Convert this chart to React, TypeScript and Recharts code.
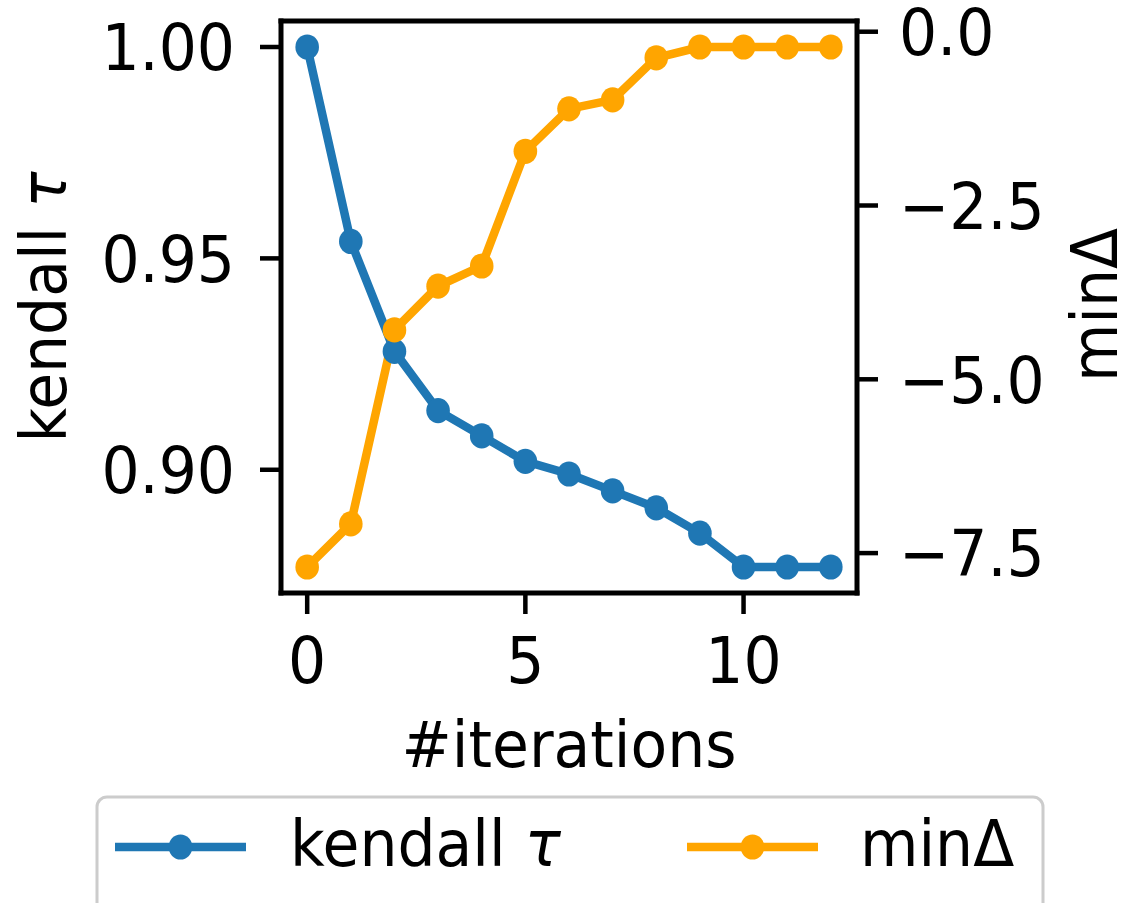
import React from 'react';
import { LineChart, Line, XAxis, YAxis, Legend, ReferenceLine } from 'recharts';

// ---- data ----
const iterations = [0, 1, 2, 3, 4, 5, 6, 7, 8, 9, 10, 11, 12];
const kendallTau = [1.0, 0.954, 0.928, 0.914, 0.908, 0.902, 0.899, 0.895, 0.891, 0.885, 0.877, 0.877, 0.877];
const minDelta = [-7.7, -7.08, -4.29, -3.66, -3.37, -1.72, -1.11, -0.98, -0.375, -0.22, -0.22, -0.22, -0.22];
const xTicks = [0, 5, 10];
const tauTicks = [0.9, 0.95, 1.0];
const deltaTicks = [-7.5, -5.0, -2.5, 0.0];
const seriesNames = { tau: 'kendall τ', delta: 'minΔ' };
const xLabel = '#iterations';

const data = iterations.map((it, i) => ({ iter: it, tau: kendallTau[i], delta: minDelta[i] }));

// matplotlib-like 5% margins
const padDomain = (vals: number[]): [number, number] => {
  const mn = Math.min(...vals);
  const mx = Math.max(...vals);
  const m = (mx - mn) * 0.05;
  return [mn - m, mx + m];
};
const xDomain = padDomain(iterations);
const tauDomain = padDomain(kendallTau);
const deltaDomain = padDomain(minDelta);

// ---- layout / style ----
const W = 1121;
const H = 903;
const PLOT = { left: 281, right: 857, top: 21, bottom: 593 };
const FONT = 'DejaVu Sans';
const FS = 60;
const SY = 1.07; // slight vertical stretch seen in the reference
const BLUE = '#1f77b4';
const ORANGE = '#ffa500';
const LW = 8.5;
const RX = 11.8;
const RY = 12.6;
const FRAME = 5;

const axisLineStyle = { stroke: '#000', strokeWidth: FRAME, strokeLinecap: 'square' as const };
const tickLineStyle = { stroke: '#000', strokeWidth: 4.5 };

const fmtTau = (v: number) => v.toFixed(2);
const fmtDelta = (v: number) => (v < 0 ? '\u2212' : '') + Math.abs(v).toFixed(1);
const fmtX = (v: number) => String(v);

const SText = ({ x, y, anchor, children, rotate }: any) => (
  <text
    transform={`translate(${x},${y})${rotate ? ` rotate(${rotate})` : ''} scale(1,${SY})`}
    textAnchor={anchor}
    fontSize={FS}
    fontFamily={FONT}
    fill="#000"
  >
    {children}
  </text>
);

const makeTick = (fmt: (v: number) => string, kind: 'x' | 'y') => (props: any) => {
  const { x, y, payload, textAnchor } = props;
  const baseline = kind === 'x' ? y + 45 : y + 0.3645 * FS * SY;
  return (
    <SText x={x} y={baseline} anchor={textAnchor}>
      {fmt(payload.value)}
    </SText>
  );
};

const XLabelContent = () => (
  <SText x={(PLOT.left + PLOT.right) / 2} y={767} anchor="middle">
    {xLabel}
  </SText>
);

const LeftLabelContent = () => (
  <SText x={66} y={(PLOT.top + PLOT.bottom) / 2} anchor="middle" rotate={-90}>
    kendall <tspan fontStyle="italic">τ</tspan>
  </SText>
);

const RightLabelContent = () => (
  <SText x={1117} y={305} anchor="middle" rotate={-90}>
    {seriesNames.delta}
  </SText>
);

const makeDot = (color: string) => (props: any) => {
  const { cx, cy, index } = props;
  if (cx == null || cy == null) return <g key={`d-${index}`} />;
  return <ellipse key={`d-${index}`} cx={cx} cy={cy} rx={RX} ry={RY} fill={color} />;
};

const LEG_TOP = 780;
const legendItemX = [
  { lineStart: 115, lineEnd: 246, text: 290 },
  { lineStart: 687, lineEnd: 818, text: 860 },
];

const renderLegend = (props: any) => {
  const payload = (props && props.payload) || [];
  const ly = 847 - LEG_TOP;
  const ty = 866 - LEG_TOP;
  return (
    <svg width={W} height={H - LEG_TOP} style={{ display: 'block' }}>
      <rect x={97} y={797 - LEG_TOP} width={946} height={160} rx={10} ry={10} fill="#fff" stroke="#cccccc" strokeWidth={3} />
      {payload.map((p: any, i: number) => {
        const pos = legendItemX[i] || legendItemX[0];
        const name = String(p.value);
        const isTau = name === seriesNames.tau;
        return (
          <g key={i}>
            <line x1={pos.lineStart} x2={pos.lineEnd} y1={ly} y2={ly} stroke={p.color} strokeWidth={LW} />
            <ellipse cx={(pos.lineStart + pos.lineEnd) / 2} cy={ly} rx={RX} ry={RY} fill={p.color} />
            <SText x={pos.text} y={ty} anchor="start">
              {isTau ? (
                <>
                  kendall <tspan fontStyle="italic">τ</tspan>
                </>
              ) : (
                name
              )}
            </SText>
          </g>
        );
      })}
    </svg>
  );
};

export default function App() {
  return (
    <div style={{ position: 'absolute', left: 0, top: 0, width: W, height: H, overflow: 'hidden', background: '#fff', fontFamily: FONT }}>
      <LineChart width={W} height={H} data={data} margin={{ top: PLOT.top, right: 0, bottom: 0, left: 0 }}>
        <XAxis
          dataKey="iter"
          type="number"
          domain={xDomain}
          ticks={xTicks}
          interval={0}
          height={H - PLOT.bottom}
          tick={makeTick(fmtX, 'x')}
          tickSize={21}
          tickMargin={24}
          axisLine={axisLineStyle}
          tickLine={tickLineStyle}
          label={{ content: XLabelContent }}
        />
        <YAxis
          yAxisId="tau"
          orientation="left"
          type="number"
          domain={tauDomain}
          ticks={tauTicks}
          interval={0}
          width={PLOT.left}
          tick={makeTick(fmtTau, 'y')}
          tickSize={21}
          tickMargin={25}
          axisLine={axisLineStyle}
          tickLine={tickLineStyle}
          label={{ content: LeftLabelContent }}
        />
        <YAxis
          yAxisId="delta"
          orientation="right"
          type="number"
          domain={deltaDomain}
          ticks={deltaTicks}
          interval={0}
          width={W - PLOT.right}
          tick={makeTick(fmtDelta, 'y')}
          tickSize={21}
          tickMargin={21}
          axisLine={axisLineStyle}
          tickLine={tickLineStyle}
          label={{ content: RightLabelContent }}
        />
        <ReferenceLine yAxisId="tau" y={tauDomain[1]} stroke="#000" strokeWidth={FRAME} strokeLinecap="square" />
        <Line
          yAxisId="tau"
          dataKey="tau"
          name={seriesNames.tau}
          stroke={BLUE}
          strokeWidth={LW}
          dot={makeDot(BLUE)}
          activeDot={false}
          isAnimationActive={false}
        />
        <Line
          yAxisId="delta"
          dataKey="delta"
          name={seriesNames.delta}
          stroke={ORANGE}
          strokeWidth={LW}
          dot={makeDot(ORANGE)}
          activeDot={false}
          isAnimationActive={false}
        />
        <Legend
          layout="horizontal"
          verticalAlign="middle"
          align="center"
          wrapperStyle={{ left: 0, top: LEG_TOP, width: W, height: H - LEG_TOP }}
          content={renderLegend}
        />
      </LineChart>
    </div>
  );
}
